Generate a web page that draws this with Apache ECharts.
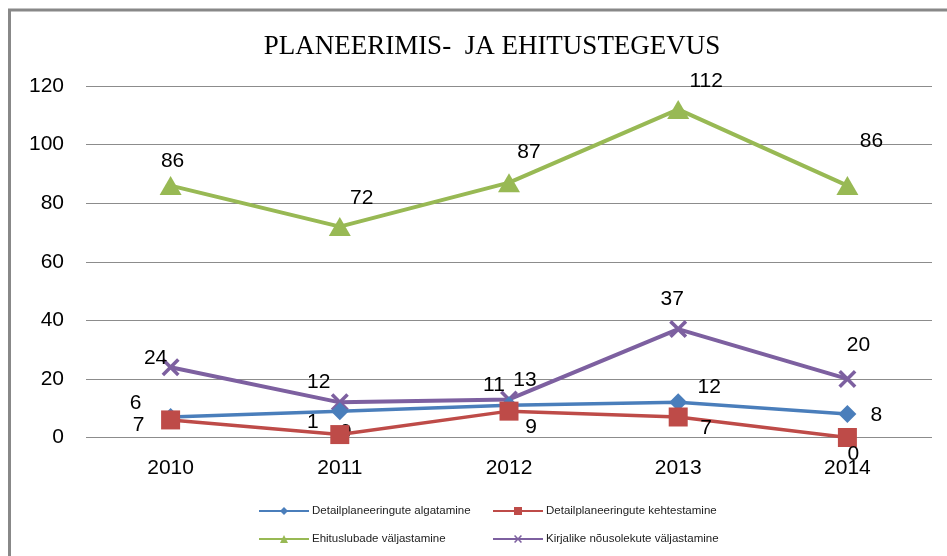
<!DOCTYPE html>
<html>
<head>
<meta charset="utf-8">
<script src="https://cdn.jsdelivr.net/npm/echarts@6/dist/echarts.min.js"></script>
<style>
html,body{margin:0;padding:0;background:#fff;}
#chart{width:947px;height:556px;}
</style>
</head>
<body>
<div id="chart"></div>
<script>
const titleText = 'PLANEERIMIS-  JA EHITUSTEGEVUS';
const categories = ['2010', '2011', '2012', '2013', '2014'];
const seriesNames = [
  'Detailplaneeringute algatamine',
  'Detailplaneeringute kehtestamine',
  'Ehituslubade väljastamine',
  'Kirjalike nõusolekute väljastamine'
];
const algatamine = [7, 9, 11, 12, 8];
const kehtestamine = [6, 1, 9, 7, 0];
const ehitusload = [86, 72, 87, 112, 86];
const nousolekud = [24, 12, 13, 37, 20];
const yTicks = [0, 20, 40, 60, 80, 100, 120];

// label offsets (layout only)
const offsBlue = [[-32, 8], [6, 21], [-15, -20], [31, -15], [29, 1]];
const offsRed = [[-35, -17], [-27, -12], [22, 16], [28, 11], [6, 17]];
const offsGreen = [[2, -24], [22, -28], [20, -30], [28, -28], [24, -44]];
const offsPurple = [[-15, -9], [-21, -20], [16, -19], [-6, -30], [11, -34]];

const colors = ['#4a7ebb', '#be4b48', '#98b954', '#7d60a0'];
const xPath = 'path://M0,1.4L1.4,0L5,3.6L8.6,0L10,1.4L6.4,5L10,8.6L8.6,10L5,6.4L1.4,10L0,8.6L3.6,5Z';

function withLabels(values, offs) {
  return values.map((v, i) => ({
    value: v,
    label: { offset: offs[i] }
  }));
}

const labelBase = {
  show: true,
  position: 'inside',
  align: 'center',
  verticalAlign: 'middle',
  color: '#000',
  fontFamily: 'Liberation Sans, Arial, sans-serif',
  fontSize: 21
};

const chart = echarts.init(document.getElementById('chart'));
const legendBase = {
  orient: 'horizontal',
  itemWidth: 50,
  itemHeight: 10,
  itemGap: 4,
  textStyle: { fontFamily: 'Liberation Sans, Arial, sans-serif', fontSize: 11.5, color: '#222', padding: [0, 0, 0, -2] },
  padding: 0,
  selectedMode: false
};
chart.setOption({
  animation: false,
  backgroundColor: '#fff',
  color: colors,
  title: {
    text: titleText,
    left: 487,
    textAlign: 'center',
    top: 28,
    textStyle: { fontFamily: 'Liberation Serif, Times New Roman, serif', fontWeight: 'normal', fontSize: 27, color: '#000' }
  },
  graphic: [{
    type: 'polyline',
    shape: { points: [[9.5, 556], [9.5, 10], [947, 10]] },
    style: { stroke: '#888', lineWidth: 3, fill: null },
    silent: true
  }],
  legend: [
    Object.assign({}, legendBase, { data: [seriesNames[0]], left: 258, top: 505 }),
    Object.assign({}, legendBase, { data: [seriesNames[1]], left: 492, top: 505 }),
    Object.assign({}, legendBase, { data: [seriesNames[2]], left: 258, top: 533 }),
    Object.assign({}, legendBase, { data: [seriesNames[3]], left: 492, top: 533 })
  ],
  grid: { left: 86, right: 15, top: 86, bottom: 118.5 },
  xAxis: {
    type: 'category',
    data: categories,
    boundaryGap: true,
    axisLine: { show: false },
    axisTick: { show: false },
    axisLabel: { color: '#000', fontFamily: 'Liberation Sans, Arial, sans-serif', fontSize: 21, margin: 20 }
  },
  yAxis: {
    type: 'value',
    min: yTicks[0],
    max: yTicks[yTicks.length - 1],
    interval: 20,
    axisLine: { show: false },
    axisTick: { show: false },
    axisLabel: { color: '#000', fontFamily: 'Liberation Sans, Arial, sans-serif', fontSize: 21, margin: 22 },
    splitLine: { lineStyle: { color: '#8c8c8c', width: 1 } }
  },
  series: [
    {
      name: seriesNames[0], type: 'line', data: withLabels(algatamine, offsBlue),
      symbol: 'diamond', symbolSize: 18, lineStyle: { width: 3.5, color: colors[0] },
      itemStyle: { color: colors[0] }, label: labelBase, z: 4
    },
    {
      name: seriesNames[1], type: 'line', data: withLabels(kehtestamine, offsRed),
      symbol: 'rect', symbolSize: 19, lineStyle: { width: 3.5, color: colors[1] },
      itemStyle: { color: colors[1] }, label: labelBase, z: 5
    },
    {
      name: seriesNames[2], type: 'line', data: withLabels(ehitusload, offsGreen),
      symbol: 'triangle', symbolSize: [22, 19], lineStyle: { width: 4, color: colors[2] },
      itemStyle: { color: colors[2] }, label: labelBase, z: 3
    },
    {
      name: seriesNames[3], type: 'line', data: withLabels(nousolekud, offsPurple),
      symbol: xPath, symbolSize: 18, lineStyle: { width: 4, color: colors[3] },
      itemStyle: { color: colors[3] }, label: labelBase, z: 3
    }
  ]
});
</script>
</body>
</html>
